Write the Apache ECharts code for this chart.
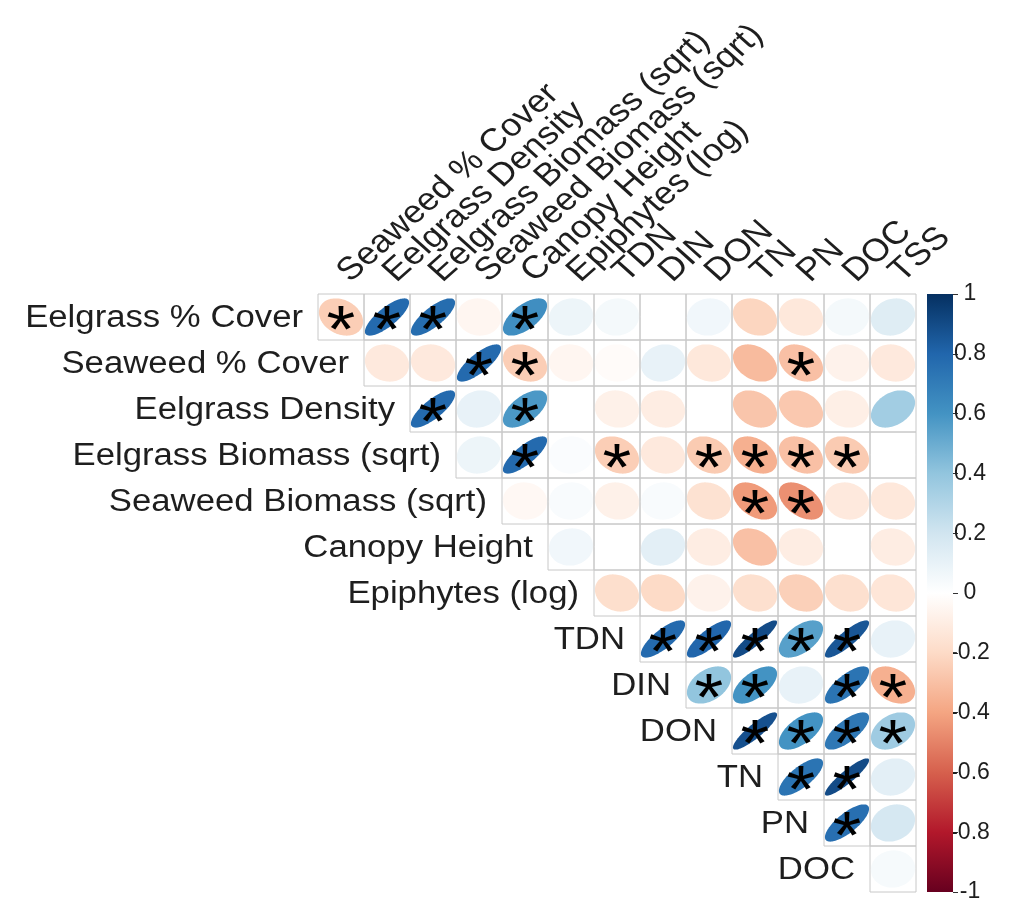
<!DOCTYPE html>
<html>
<head>
<meta charset="utf-8">
<script src="https://cdn.jsdelivr.net/npm/echarts@6/dist/echarts.min.js"></script>
<style>
  html, body { margin: 0; padding: 0; background: #ffffff; }
  #chart { width: 1010px; height: 905px; }
</style>
</head>
<body>
<div id="chart"></div>
<script>
// Variable names: rows run down the left, columns across the top
const rowLabels = [
  "Eelgrass % Cover", "Seaweed % Cover", "Eelgrass Density", "Eelgrass Biomass (sqrt)",
  "Seaweed Biomass (sqrt)", "Canopy Height", "Epiphytes (log)", "TDN", "DIN", "DON",
  "TN", "PN", "DOC"
];
const colLabels = [
  "Seaweed % Cover", "Eelgrass Density", "Eelgrass Biomass (sqrt)", "Seaweed Biomass (sqrt)",
  "Canopy Height", "Epiphytes (log)", "TDN", "DIN", "DON", "TN", "PN", "DOC", "TSS"
];

// Pearson correlations, upper triangle: row i holds columns i..12
const rEelgrassCover    = [-0.25, 0.78, 0.77, -0.05, 0.62, 0.08, 0.05, 0.00, 0.06, -0.22, -0.13, 0.05, 0.14];
const rSeaweedCover     = [-0.12, -0.12, 0.78, -0.25, -0.05, -0.02, 0.10, -0.13, -0.32, -0.30, -0.07, -0.12];
const rEelgrassDensity  = [0.78, 0.10, 0.58, 0.00, -0.08, -0.10, 0.00, -0.28, -0.27, -0.09, 0.35];
const rEelgrassBiomass  = [0.08, 0.78, 0.02, -0.25, -0.12, -0.26, -0.36, -0.30, -0.26, 0.00];
const rSeaweedBiomass   = [-0.04, 0.03, -0.08, 0.03, -0.16, -0.43, -0.46, -0.12, -0.13];
const rCanopyHeight     = [0.06, 0.00, 0.12, -0.10, -0.30, -0.10, 0.00, -0.10];
const rEpiphytes        = [-0.18, -0.20, -0.07, -0.17, -0.24, -0.17, -0.14];
const rTDN              = [0.78, 0.80, 0.90, 0.55, 0.86, 0.10];
const rDIN              = [0.40, 0.60, 0.10, 0.74, -0.36];
const rDON              = [0.88, 0.60, 0.72, 0.36];
const rTN               = [0.74, 0.90, 0.12];
const rPN               = [0.76, 0.18];
const rDOC              = [0.04];

// Significance flags (1 = p < 0.05), same layout as the correlations
const sEelgrassCover    = [1, 1, 1, 0, 1, 0, 0, 0, 0, 0, 0, 0, 0];
const sSeaweedCover     = [0, 0, 1, 1, 0, 0, 0, 0, 0, 1, 0, 0];
const sEelgrassDensity  = [1, 0, 1, 0, 0, 0, 0, 0, 0, 0, 0];
const sEelgrassBiomass  = [0, 1, 0, 1, 0, 1, 1, 1, 1, 0];
const sSeaweedBiomass   = [0, 0, 0, 0, 0, 1, 1, 0, 0];
const sCanopyHeight     = [0, 0, 0, 0, 0, 0, 0, 0];
const sEpiphytes        = [0, 0, 0, 0, 0, 0, 0];
const sTDN              = [1, 1, 1, 1, 1, 0];
const sDIN              = [1, 1, 0, 1, 1];
const sDON              = [1, 1, 1, 1];
const sTN               = [1, 1, 0];
const sPN               = [1, 0];
const sDOC              = [0];

// Diverging red-blue palette from -1 to +1
const palette = ["#67001F", "#B2182B", "#D6604D", "#F4A582", "#FDDBC7", "#FFFFFF",
                 "#D1E5F0", "#92C5DE", "#4393C3", "#2166AC", "#053061"];

const corrRows = [rEelgrassCover, rSeaweedCover, rEelgrassDensity, rEelgrassBiomass,
  rSeaweedBiomass, rCanopyHeight, rEpiphytes, rTDN, rDIN, rDON, rTN, rPN, rDOC];
const sigRows = [sEelgrassCover, sSeaweedCover, sEelgrassDensity, sEelgrassBiomass,
  sSeaweedBiomass, sCanopyHeight, sEpiphytes, sTDN, sDIN, sDON, sTN, sPN, sDOC];

// [column, row, r, significant]
const cells = [];
corrRows.forEach((vals, i) => {
  vals.forEach((v, k) => cells.push([i + k, i, v, sigRows[i][k]]));
});

const FONT = "Liberation Sans";
const TEXT_COLOR = "#1e1e1e";
const STRETCH = 1.12;   // horizontal widening of labels and ellipses

function renderCell(params, api) {
  const col = api.value(0), row = api.value(1), r = api.value(2), sig = api.value(3);
  const c = api.coord([col, row]);
  const sz = api.size([1, 1]);
  const w = sz[0], h = sz[1];
  const a = Math.acos(Math.max(-1, Math.min(1, r)));
  const pts = [];
  for (let k = 0; k < 100; k++) {
    const t = 2 * Math.PI * k / 99;
    pts.push([
      c[0] + Math.cos(t + a / 2) / 2 * w * 0.96,
      c[1] - Math.cos(t - a / 2) / 2 * h * 0.81
    ]);
  }
  const children = [
    { type: "rect", shape: { x: c[0] - w / 2, y: c[1] - h / 2, width: w, height: h },
      style: { fill: "none", stroke: "#C8C8C8", lineWidth: 1 } },
    { type: "polygon", shape: { points: pts }, style: { fill: api.visual("color") } }
  ];
  if (sig) {
    children.push({
      type: "group", x: c[0], y: c[1] + 17, scaleX: STRETCH,
      children: [{
        type: "text",
        style: { text: "*", fill: "#000", fontSize: 66, fontFamily: FONT,
                 align: "center", verticalAlign: "middle",
                 textAlign: "center", textVerticalAlign: "middle" }
      }]
    });
  }
  return { type: "group", children };
}

function renderRowLabel(params, api) {
  const i = api.value(0);
  const c = api.coord([i, i]);
  const w = api.size([1, 1])[0];
  return {
    type: "group", x: c[0] - w / 2 - 15, y: c[1] + 1, scaleX: STRETCH,
    children: [{
      type: "text",
      style: { text: rowLabels[params.dataIndex], fill: TEXT_COLOR, fontSize: 31, fontFamily: FONT,
               align: "right", verticalAlign: "middle",
               textAlign: "right", textVerticalAlign: "middle" }
    }]
  };
}

function renderColLabel(params, api) {
  const j = api.value(0);
  const c = api.coord([j, 0]);
  const h = api.size([1, 1])[1];
  return {
    type: "group", x: c[0] + 15, y: c[1] - h / 2 - 6, scaleX: STRETCH,
    children: [{
      type: "text", rotation: Math.PI / 4,
      style: { text: colLabels[params.dataIndex], fill: TEXT_COLOR, fontSize: 32, fontFamily: FONT,
               align: "left", verticalAlign: "bottom",
               textAlign: "left", textVerticalAlign: "bottom" }
    }]
  };
}

function renderColorbar(params, api) {
  const top = api.coord([0, 1]);
  const bot = api.coord([0, -1]);
  const w = api.size([1, 0])[0];
  const stops = palette.slice().reverse().map((col, k) => ({ offset: k / (palette.length - 1), color: col }));
  return {
    type: "rect",
    shape: { x: top[0] - w / 2, y: top[1], width: w, height: bot[1] - top[1] },
    style: { fill: { type: "linear", x: 0, y: 0, x2: 0, y2: 1, colorStops: stops, global: false } }
  };
}

const chart = echarts.init(document.getElementById("chart"), null, { renderer: "canvas" });
chart.setOption({
  backgroundColor: "#ffffff",
  animation: false,
  grid: [
    { left: 318, top: 294, width: 598, height: 598 },
    { left: 927, top: 294, width: 26, height: 598 }
  ],
  xAxis: [
    { gridIndex: 0, type: "category", data: colLabels, show: false },
    { gridIndex: 1, type: "category", data: ["scale"], show: false }
  ],
  yAxis: [
    { gridIndex: 0, type: "category", data: rowLabels, inverse: true, show: false },
    { gridIndex: 1, type: "value", min: -1, max: 1, interval: 0.2, position: "right",
      axisLine: { show: false },
      axisTick: { show: true, inside: false, length: 5, lineStyle: { color: "#333", width: 1 } },
      splitLine: { show: false },
      axisLabel: { show: true, align: "center", margin: 17, fontSize: 23, fontFamily: FONT,
                   color: TEXT_COLOR, showMinLabel: true, showMaxLabel: true } }
  ],
  visualMap: {
    type: "continuous", show: false, min: -1, max: 1, dimension: 2, seriesIndex: 0,
    inRange: { color: palette }
  },
  series: [
    { type: "custom", name: "corr", xAxisIndex: 0, yAxisIndex: 0, data: cells,
      renderItem: renderCell, clip: false, silent: true },
    { type: "custom", name: "rows", xAxisIndex: 0, yAxisIndex: 0,
      data: rowLabels.map((_, i) => [i, i]), renderItem: renderRowLabel, clip: false, silent: true },
    { type: "custom", name: "cols", xAxisIndex: 0, yAxisIndex: 0,
      data: colLabels.map((_, j) => [j, 0]), renderItem: renderColLabel, clip: false, silent: true },
    { type: "custom", name: "scale", xAxisIndex: 1, yAxisIndex: 1,
      data: [[0, 0]], renderItem: renderColorbar, clip: false, silent: true }
  ]
});
</script>
</body>
</html>
